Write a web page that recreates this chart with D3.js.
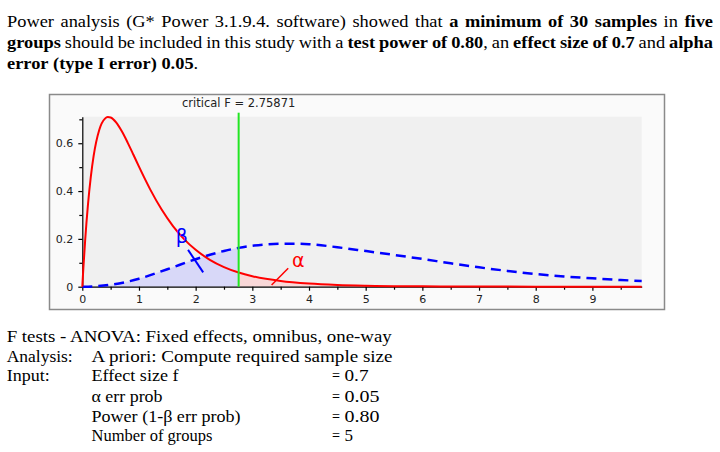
<!DOCTYPE html>
<html><head><meta charset="utf-8">
<script src="https://cdn.jsdelivr.net/npm/d3@7"></script>
<style>body{margin:0;background:#fff}svg{display:block}</style>
</head><body>
<svg id="c" width="720" height="452"></svg>
<script>
// ---------- data ----------
const xTicks = [0,1,2,3,4,5,6,7,8,9];
const xMinorTicks = [0.5,1.5,2.5,3.5,4.5,5.5,6.5,7.5,8.5,9.5];
const yTicks = [0,0.2,0.4,0.6];
const yTickLabels = ["0","0.2","0.4","0.6"];
const yMinorTicks = [0.1,0.3,0.5,0.7];
const criticalF = 2.75871;
const xMax = 9.87;
const yMax = 0.711;
// central F (H0) density
const centralX = [0,0.01,0.02,0.05,0.1,0.15,0.2,0.3,0.4,0.45,0.5,0.6,0.7,0.8,0.9,1.0,1.2,1.4,1.6,1.8,2.0,2.25,2.5,2.75871,3.0,3.5,4.0,4.5,5.0,6.0,7.0,8.0,9.0,9.87];
const centralY = [0,0.0422,0.0825,0.1924,0.3432,0.4594,0.5472,0.6567,0.7030,0.7094,0.7077,0.6861,0.6487,0.6027,0.5529,0.5020,0.4061,0.3226,0.2536,0.1981,0.1542,0.1126,0.0822,0.0594,0.0441,0.0240,0.0133,0.0075,0.0043,0.0015,0.0006,0.0002,0.0001,0.00005];
// noncentral F (H1) density
const noncentralX = [0,0.25,0.5,0.75,1,1.5,2,2.5,2.75871,3,3.5,3.75,4,4.5,5,5.5,6,6.5,7,7.5,8,8.5,9,9.5,9.87];
const noncentralY = [0,0.0021,0.0080,0.0185,0.0335,0.0729,0.1149,0.1494,0.1624,0.1711,0.1793,0.1797,0.1779,0.1650,0.1492,0.1330,0.1160,0.0980,0.0810,0.0660,0.0530,0.0430,0.0350,0.0280,0.0240];

const topLines = [
  [["Power analysis (G* Power 3.1.9.4. software) showed that ",false],["a minimum of 30 samples",true],[" in ",false],["five",true]],
  [["groups",true],[" should be included in this study with a ",false],["test power of 0.80",true],[", an ",false],["effect size of 0.7",true],[" and ",false],["alpha",true]],
  [["error (type I error) 0.05",true],[".",false]]
];
const bottomRows = [
  {label:"F tests - ANOVA: Fixed effects, omnibus, one-way"},
  {label:"Analysis:", text:"A priori: Compute required sample size"},
  {label:"Input:", text:"Effect size f", value:"0.7"},
  {text:"α err prob", value:"0.05"},
  {text:"Power (1-β err prob)", value:"0.80"},
  {text:"Number of groups", value:"5"}
];

// ---------- drawing ----------
const svg = d3.select("#c");
const serif = "'Liberation Serif','Times New Roman',serif";
const sans = "'DejaVu Sans',Verdana,sans-serif";

// top paragraph (justified)
function tokenize(segs){
  const words=[]; let cur=[];
  segs.forEach(([t,b])=>{
    t.split(" ").forEach((p,i)=>{
      if(i>0){ if(cur.length) words.push(cur); cur=[]; }
      if(p) cur.push({t:p,b});
    });
  });
  if(cur.length) words.push(cur);
  return words;
}
const topFs = 17.5, topX0 = 7, topX1 = 713;
const topBase = [27, 48, 69];
const spaceW = topFs*0.25;
let topHs = 1;
{
  const words = tokenize(topLines[0]);
  let tot = 0;
  words.forEach(w=>{
    const t = svg.append("text").attr("font-family",serif).attr("font-size",topFs);
    w.forEach(p=>t.append("tspan").attr("font-weight",p.b?"bold":"normal").text(p.t));
    tot += t.node().getComputedTextLength();
    t.remove();
  });
  tot += spaceW*(words.length-1);
  topHs = Math.min(1.05, (topX1-topX0)/tot);
}
topLines.forEach((segs,li)=>{
  const words = tokenize(segs);
  const nodes = words.map(w=>{
    const t = svg.append("text").attr("y",topBase[li]).attr("font-family",serif)
      .attr("font-size",topFs).attr("fill","#000");
    w.forEach(p=>t.append("tspan").attr("font-weight",p.b?"bold":"normal").text(p.t));
    const L = t.node().getComputedTextLength();
    t.attr("textLength",L*topHs).attr("lengthAdjust","spacingAndGlyphs");
    return {t, w:L*topHs};
  });
  const total = d3.sum(nodes,d=>d.w);
  const justify = li < topLines.length-1;
  const gap = justify ? (topX1-topX0-total)/(nodes.length-1) : spaceW*topHs;
  let x = topX0;
  nodes.forEach(n=>{ n.t.attr("x",x); x += n.w + gap; });
});

// chart frame
svg.append("rect").attr("x",49.5).attr("y",94.5).attr("width",615).attr("height",215)
  .attr("fill","#fafafa").attr("stroke","#8a8a8a").attr("stroke-width",1.5);

const x = d3.scaleLinear().domain([0,xMax]).range([82.3,641.7]);
const y = d3.scaleLinear().domain([0,yMax]).range([286.7,116.7]);

svg.append("rect").attr("x",x(0)).attr("y",y(yMax)).attr("width",x(xMax)-x(0))
  .attr("height",y(0)-y(yMax)).attr("fill","#f0f0f0");

const central = centralX.map((v,i)=>[v,centralY[i]]);
const noncentral = noncentralX.map((v,i)=>[v,noncentralY[i]]);

const area = d3.area().x(d=>x(d[0])).y0(y(0)).y1(d=>y(d[1])).curve(d3.curveMonotoneX);
svg.append("path").datum(noncentral.filter(d=>d[0]<=criticalF))
  .attr("d",area).attr("fill","#d8d8f8");
svg.append("path").datum(central.filter(d=>d[0]>=criticalF))
  .attr("d",area).attr("fill","#f9d8d8");

// axes
svg.append("g").attr("transform",`translate(0,${y(0)})`)
  .call(d3.axisBottom(x).tickValues(xTicks).tickSize(4).tickSizeOuter(0).tickPadding(5).tickFormat(d3.format("d")));
const gxm = svg.append("g").attr("transform",`translate(0,${y(0)})`)
  .call(d3.axisBottom(x).tickValues(xMinorTicks).tickSize(3).tickFormat(""));
gxm.select(".domain").remove();
svg.append("g").attr("transform",`translate(${x(0)},0)`)
  .call(d3.axisLeft(y).tickValues(yTicks).tickSize(4).tickSizeOuter(0).tickPadding(5)
    .tickFormat((d,i)=>yTickLabels[i]));
const gym = svg.append("g").attr("transform",`translate(${x(0)},0)`)
  .call(d3.axisLeft(y).tickValues(yMinorTicks).tickSize(3).tickFormat(""));
gym.select(".domain").remove();
svg.selectAll(".domain").attr("stroke","#000").attr("stroke-width",1.2);
svg.selectAll(".tick line").attr("stroke","#000").attr("stroke-width",1.2);
svg.selectAll(".tick text").attr("font-family",sans).attr("font-size",11).attr("fill","#222");

// curves
const line = d3.line().x(d=>x(d[0])).y(d=>y(d[1])).curve(d3.curveMonotoneX);
svg.append("path").datum(noncentral).attr("d",line).attr("fill","none")
  .attr("stroke","#0000ff").attr("stroke-width",2.5).attr("stroke-dasharray","10,6");
svg.append("path").datum(central).attr("d",line).attr("fill","none")
  .attr("stroke","#ff0000").attr("stroke-width",2);

// critical line
svg.append("line").attr("x1",x(criticalF)).attr("x2",x(criticalF))
  .attr("y1",112.7).attr("y2",y(0)).attr("stroke","#22e622").attr("stroke-width",2);
svg.append("text").attr("x",x(criticalF)).attr("y",106.5).attr("text-anchor","middle")
  .attr("font-family",sans).attr("font-size",11.5).attr("fill","#222")
  .text("critical F = " + criticalF);

// beta / alpha annotations
svg.append("line").attr("x1",x(1.866)).attr("y1",y(0.154)).attr("x2",x(2.133)).attr("y2",y(0.060))
  .attr("stroke","#0000ff").attr("stroke-width",2);
svg.append("text").attr("x",x(1.758)).attr("y",y(0.183)).attr("text-anchor","middle")
  .attr("font-family",sans).attr("font-size",19).attr("fill","#0000ff").text("β");
svg.append("line").attr("x1",x(3.633)).attr("y1",y(0.077)).attr("x2",x(3.340)).attr("y2",y(0.007))
  .attr("stroke","#ff0000").attr("stroke-width",1.5);
svg.append("text").attr("x",x(3.81)).attr("y",y(0.084)).attr("text-anchor","middle")
  .attr("font-family",sans).attr("font-size",19).attr("fill","#ff0000").text("α");

// bottom text block
const botFs = 16;
const botBase = [342, 361.5, 380.5, 402, 421.5, 441];
function put(txt, xx, yy, w){
  const t = svg.append("text").attr("x",xx).attr("y",yy).attr("font-family",serif)
    .attr("font-size",botFs).attr("fill","#000").text(txt);
  if(w) t.attr("textLength",w).attr("lengthAdjust","spacingAndGlyphs");
  return t;
}
const labelW = {"F tests - ANOVA: Fixed effects, omnibus, one-way":385,"Analysis:":66,"Input:":43};
const textW = {"A priori: Compute required sample size":301,"Effect size f":87,"α err prob":71,"Power (1-β err prob)":149,"Number of groups":121};
const valueW = {"0.7":24,"0.05":35,"0.80":35,"5":8.5};
bottomRows.forEach((r,i)=>{
  const yy = botBase[i];
  if(r.label) put(r.label, 6.7, yy, labelW[r.label]);
  if(r.text) put(r.text, 91.5, yy, textW[r.text]);
  if(r.value){ put("=", 332, yy, 8); put(r.value, 344.5, yy, valueW[r.value]); }
});
</script>
</body></html>
